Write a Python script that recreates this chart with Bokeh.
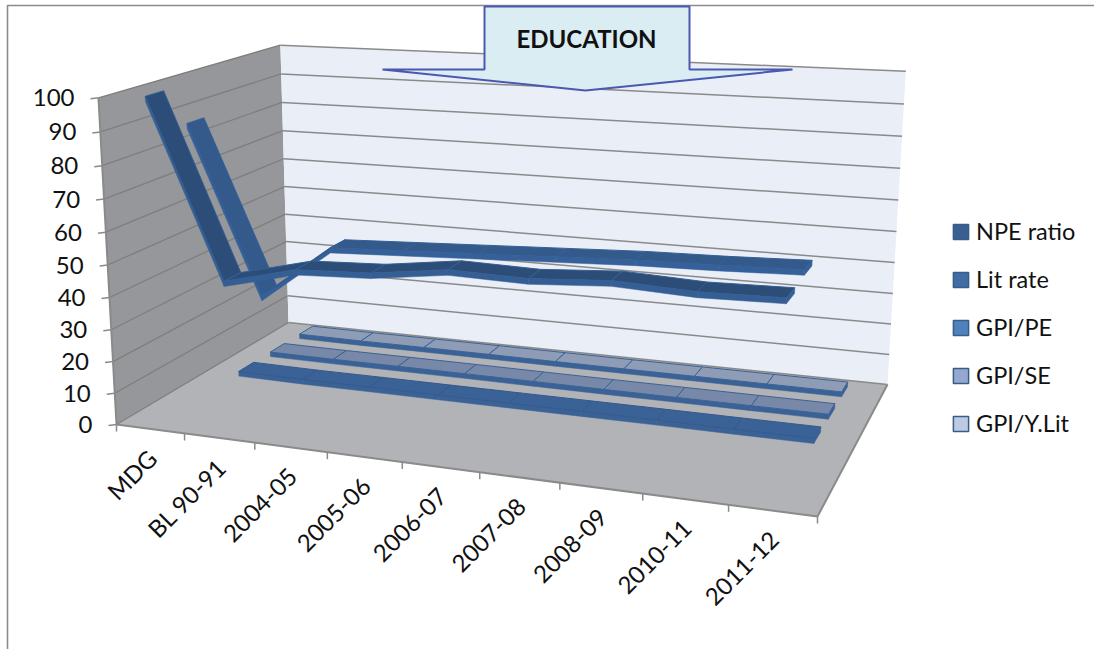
import numpy as np
from bokeh.core.properties import value
from bokeh.embed import file_html
from bokeh.models import Legend, LegendItem, Range1d
from bokeh.plotting import figure
from bokeh.resources import INLINE

CATEGORIES = ["MDG", "BL 90-91", "2004-05", "2005-06", "2006-07",
              "2007-08", "2008-09", "2010-11", "2011-12"]
NPE_RATIO = [100, 46.5, 52, 53, 56, 55.5, 57, 56, 56.5]
LIT_RATE = [88, 36, 53, 54, 55, 56, 57, 57.5, 58.3]
GPI_PE = [1.0, 0.8, 0.85, 0.85, 0.88, 0.9, 0.92, 0.9, 0.9]
GPI_SE = [1.0, 0.9, 0.95, 0.95, 0.9, 0.85, 0.85, 0.85, 0.85]
GPI_YLIT = [1.0, 0.9, 0.95, 0.95, 0.9, 0.88, 0.9, 0.9, 0.9]
Y_TICKS = list(range(0, 101, 10))

SERIES = ["NPE ratio", "Lit rate", "GPI/PE", "GPI/SE", "GPI/Y.Lit"]
ALL_VALUES = [NPE_RATIO, LIT_RATE, GPI_PE, GPI_SE, GPI_YLIT]
TOP_COLORS = ["#2b4d78", "#335a8a", "#3a6296", "#7888a8", "#8f9cb6"]
FACE_COLORS = ["#355f94", "#35609a", "#3a6296", "#3a6296", "#3a6296"]
EDGE_COLORS = ["#355f94", "#35609a", "#34598a", "#3a6296", "#3a6296"]
SWATCH_COLORS = ["#3b5f90", "#3f6da5", "#4f81bd", "#95a9d0", "#bccae2"]
DEPTHS = [0.10, 0.30, 0.53, 0.725, 0.917]

# Camera calibration: where the corners of the plot box land on the page.
FLOOR_CORNERS = [((0, 0), (116, 424)), ((1, 0), (817, 516)),
                 ((1, 1), (887, 384)), ((0, 1), (288, 322))]
TOP_CORNERS = [((0, 0), (97, 97)), ((0, 1), (281, 43)), ((1, 1), (905, 73))]


def solve_camera():
    rows, rhs = [], []
    for (u, v), (x, y) in FLOOR_CORNERS:
        rows.append([u, v, 1, 0, 0, 0, -u * x, -v * x]); rhs.append(x)
        rows.append([0, 0, 0, u, v, 1, -u * y, -v * y]); rhs.append(y)
    h = np.linalg.solve(np.array(rows, float), np.array(rhs, float))
    H = np.array([[h[0], h[1], h[2]], [h[3], h[4], h[5]], [h[6], h[7], 1.0]])
    rows, rhs = [], []
    for (u, v), (x, y) in TOP_CORNERS:
        b = H @ np.array([u, v, 1.0])
        rows.append([1, 0, -x]); rhs.append(x * b[2] - b[0])
        rows.append([0, 1, -y]); rhs.append(y * b[2] - b[1])
    z = np.linalg.lstsq(np.array(rows), np.array(rhs), rcond=None)[0]
    return H, z


H, ZCOL = solve_camera()


def project(u, v, z):
    """Box coordinates (u along categories, v in depth, z in value units) to page."""
    w = H @ np.array([u, v, 1.0]) + ZCOL * (z / 100.0)
    return w[0] / w[2], w[1] / w[2]


def poly(points):
    xy = [project(*pt) for pt in points]
    return [a for a, _ in xy], [b for _, b in xy]


p = figure(width=1094, height=649, x_range=Range1d(0, 1094), y_range=Range1d(649, 0),
           output_backend="svg", toolbar_location=None, min_border=0,
           background_fill_color="white", border_fill_color="white", outline_line_color=None)
p.xaxis.visible = False
p.yaxis.visible = False
p.xgrid.visible = False
p.ygrid.visible = False

# Page frame
p.line([7, 7, 1094], [649, 5, 5], line_color="#8c8c8c", line_width=1.6)

# Walls and floor
xs, ys = poly([(0, 0, 0), (0, 1, 0), (0, 1, 100), (0, 0, 100)])
p.patch(xs, ys, fill_color="#95979a", line_color=None)
xs, ys = poly([(0, 1, 0), (1, 1, 0), (1, 1, 100), (0, 1, 100)])
p.patch(xs, ys, fill_color="#e9eef7", line_color=None)
xs, ys = poly([(0, 0, 0), (1, 0, 0), (1, 1, 0), (0, 1, 0)])
p.patch(xs, ys, fill_color="#b1b3b6", line_color=None)

# Gridlines along both walls, plus the value-axis ticks
for tick in Y_TICKS:
    xs, ys = poly([(0, 0, tick), (0, 1, tick)])
    p.line(xs, ys, line_color="#7f7e7c", line_width=1.3)
    xs, ys = poly([(0, 1, tick), (1, 1, tick)])
    p.line(xs, ys, line_color="#8a8a8a", line_width=1.5)
    x0, y0 = project(0, 0, tick)
    p.line([x0 - 8, x0], [y0 + 1, y0], line_color="#8a8a8a", line_width=1.5)
    p.text([x0 - 24], [y0], text=[str(tick)], text_align="right", text_baseline="middle",
           text_font=value("Lato"), text_font_size="24px", text_color="#111111")

# Box edges
for a, b in [((0, 0, 0), (0, 0, 100)), ((0, 0, 0), (1, 0, 0)), ((1, 0, 0), (1, 1, 0))]:
    xs, ys = poly([a, b])
    p.line(xs, ys, line_color="#8a8a8a", line_width=2)

# Category ticks and slanted labels
n = len(CATEGORIES)
for i in range(n + 1):
    x0, y0 = project(i / n, 0, 0)
    p.line([x0, x0], [y0, y0 + 7], line_color="#8a8a8a", line_width=1.5)
for i, label in enumerate(CATEGORIES):
    x0, y0 = project((i + 0.5) / n, 0, 0)
    p.text([x0 + 2], [y0 + 25], text=[label], angle=45, angle_units="deg", text_align="right",
           text_baseline="middle", text_font=value("Lato"), text_font_size="24px", text_color="#111111")

# Ribbons, painted from the back of the box to the front
RIBBON_WIDTH = 0.09
THICKNESS = 1.6
for idx in range(len(SERIES) - 1, -1, -1):
    vals = ALL_VALUES[idx]
    v = DEPTHS[idx]
    front, back = v - RIBBON_WIDTH / 2, v + RIBBON_WIDTH / 2
    for i in range(n - 1):
        u0, u1 = (i + 0.5) / n, (i + 1.5) / n
        z0, z1 = vals[i], vals[i + 1]
        xs, ys = poly([(u0, front, z0), (u1, front, z1), (u1, front, z1 - THICKNESS), (u0, front, z0 - THICKNESS)])
        p.patch(xs, ys, fill_color=FACE_COLORS[idx], line_color=FACE_COLORS[idx], line_width=0.5)
        xs, ys = poly([(u0, front, z0), (u1, front, z1), (u1, back, z1), (u0, back, z0)])
        p.patch(xs, ys, fill_color=TOP_COLORS[idx], line_color=EDGE_COLORS[idx], line_width=1)
    u1 = (n - 0.5) / n
    z1 = vals[-1]
    xs, ys = poly([(u1, front, z1), (u1, back, z1), (u1, back, z1 - THICKNESS), (u1, front, z1 - THICKNESS)])
    p.patch(xs, ys, fill_color=FACE_COLORS[idx], line_color=FACE_COLORS[idx], line_width=0.5)

# Legend swatches come from placeholder glyphs that carry each series' colours
blank = float("nan")
items = []
for name, color in zip(SERIES, SWATCH_COLORS):
    r = p.patches([[blank] * 3], [[blank] * 3], fill_color=color, line_color="#385d8a", line_width=1.5)
    items.append(LegendItem(label=name, renderers=[r]))
legend = Legend(items=items, location=(951, 649 - 437), glyph_width=19, glyph_height=19,
                label_height=28, spacing=20, margin=0, padding=0, label_standoff=6,
                label_text_font="Lato", label_text_font_size="23.5px", label_text_color="#111111",
                background_fill_alpha=0, border_line_color=None)
p.add_layout(legend, "center")

# Callout arrow with the chart's heading
p.patch([484, 689, 689, 792, 585, 382, 484], [6, 6, 69, 69, 90, 69, 69],
        fill_color="#daedf3", line_color="#4a58b0", line_width=2)
p.text([586], [38], text=["EDUCATION"], text_align="center", text_baseline="middle",
       text_font=value("Lato"), text_font_style="bold", text_font_size="24px", text_color="#111111")

open("out.html", "w").write(file_html(p, INLINE))
